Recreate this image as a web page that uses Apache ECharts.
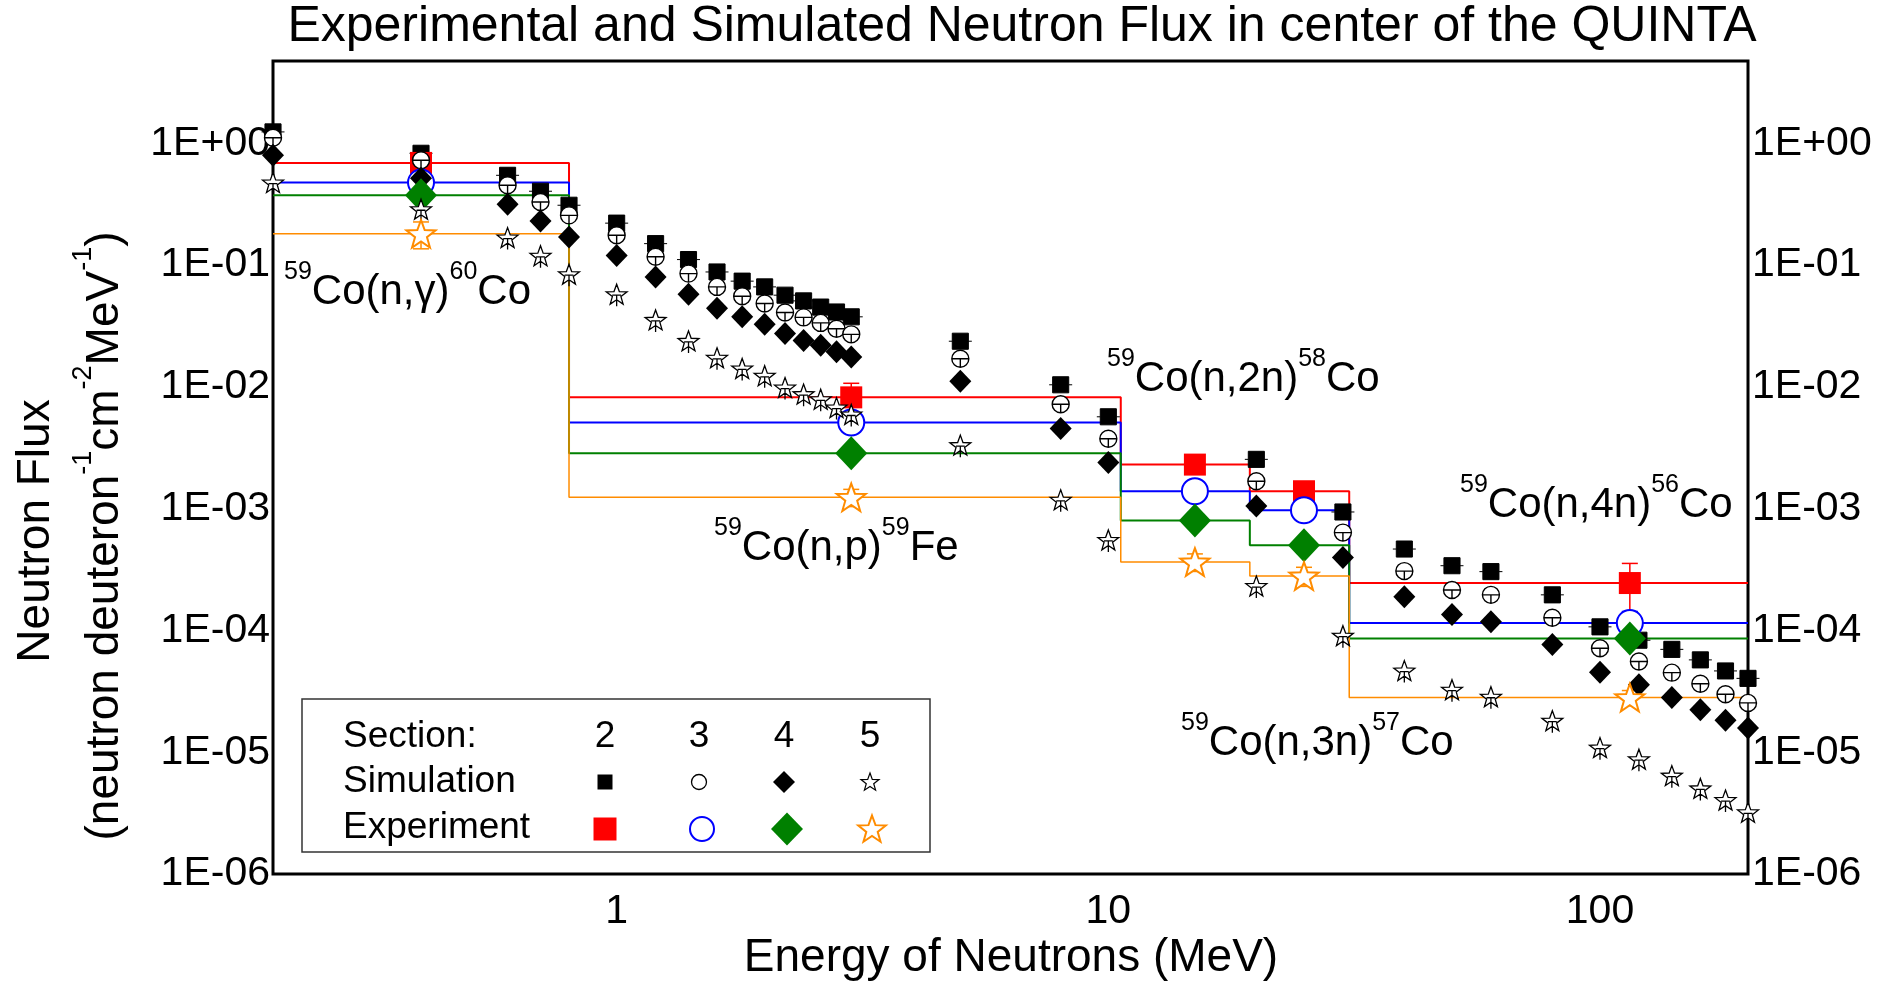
<!DOCTYPE html>
<html>
<head>
<meta charset="utf-8">
<script src="https://cdn.jsdelivr.net/npm/echarts@6/dist/echarts.min.js"></script>
<style>
  html, body { margin: 0; padding: 0; background: #fff; }
  #chart { width: 1877px; height: 987px; }
</style>
</head>
<body>
<div id="chart"></div>
<script>
// Neutron energies (MeV) of the simulated spectrum points
const simEnergy = [0.2, 0.4, 0.6, 0.7, 0.8, 1.0, 1.2, 1.4, 1.6, 1.8, 2.0, 2.2, 2.4, 2.6, 2.8, 3.0,
  5, 8, 10, 20, 30, 40, 50, 60, 80, 100, 120, 140, 160, 180, 200];
// Simulated flux, sections 2..5
const simSec2 = [1.24, 0.828, 0.546, 0.404, 0.310, 0.221, 0.150, 0.111, 0.0878, 0.0738, 0.0662, 0.0566, 0.0508, 0.0452, 0.0412, 0.0376,
  0.0237, 0.0104, 0.00568, 0.00254, 0.000939, 0.000466, 0.000340, 0.000304, 0.000196, 0.000107, 8.31e-5, 6.99e-5, 5.73e-5, 4.65e-5, 4.04e-5];
const simSec3 = [1.11, 0.725, 0.452, 0.330, 0.256, 0.176, 0.117, 0.0851, 0.0662, 0.0555, 0.0483, 0.0408, 0.0372, 0.0335, 0.0300, 0.0270,
  0.0170, 0.00720, 0.00375, 0.00168, 0.000636, 0.000307, 0.000215, 0.000196, 0.000127, 7.14e-5, 5.55e-5, 4.5e-5, 3.65e-5, 2.99e-5, 2.54e-5];
const simSec4 = [0.797, 0.516, 0.316, 0.230, 0.170, 0.120, 0.0798, 0.0577, 0.0442, 0.0376, 0.0327, 0.0274, 0.0240, 0.0220, 0.0194, 0.0176,
  0.0111, 0.00455, 0.00239, 0.00105, 0.000398, 0.000189, 0.000135, 0.000118, 7.66e-5, 4.54e-5, 3.58e-5, 2.81e-5, 2.23e-5, 1.83e-5, 1.58e-5];
const simSec5 = [0.467, 0.282, 0.165, 0.117, 0.0826, 0.0566, 0.0348, 0.0234, 0.0170, 0.0139, 0.0121, 0.00968, 0.00855, 0.00776, 0.00663, 0.00582,
  0.00326, 0.00116, 0.000543, 0.000227, 8.88e-5, 4.59e-5, 3.2e-5, 2.8e-5, 1.78e-5, 1.07e-5, 8.6e-6, 6.3e-6, 4.95e-6, 3.97e-6, 3.15e-6];

// Energy bins of the threshold reactions: (n,g), (n,p), (n,2n), (n,3n), (n,4n)
const binEdges = [0.2, 0.8, 10.6, 19.4, 30.9, 200];
// Representative energies of the experimental points
const expEnergy = [0.4, 3.0, 15, 25, 115];
// Experimental flux per bin, sections 2..5
const expSec2 = [0.69, 0.0082, 0.0023, 0.00139, 0.000245];
const expSec3 = [0.476, 0.0051, 0.00139, 0.00097, 0.000115];
const expSec4 = [0.374, 0.00285, 0.00080, 0.00050, 8.6e-5];
const expSec5 = [0.181, 0.00124, 0.000365, 0.00028, 2.81e-5];
// Experimental uncertainties
const errSec2 = [0.06, 0.0025, 0.0002, 0.00012, 0.00011];
const errSec3 = [0.08, 0.0006, 0.00018, 0.00013, 0.000028];
const errSec4 = [0.03, 0.0002, 0.00006, 0.00004, 0.000006];
const errSec5 = [0.045, 0.0002, 0.00006, 0.00005, 0.000004];

const sectionNames = ['2', '3', '4', '5'];
const xTickLabels = ['1', '10', '100'];

const FONT = '"Liberation Sans", Arial, Helvetica, sans-serif';
const RED = '#ff0000', BLUE = '#0000ff', GREEN = '#008000', ORANGE = '#ff8c00';

function starPoints(cx, cy, R, r) {
  const pts = [];
  for (let k = 0; k < 10; k++) {
    const rad = k % 2 ? r : R;
    const a = -Math.PI / 2 + k * Math.PI / 5;
    pts.push([cx + rad * Math.cos(a), cy + rad * Math.sin(a)]);
  }
  return pts;
}
function starSymbol(withBar) {
  const pts = starPoints(0, 0, 10, 4.1);
  let d = pts.map((p, k) => (k ? 'L' : 'M') + p[0].toFixed(2) + ',' + p[1].toFixed(2)).join(' ') + ' Z';
  if (withBar) d += ' M-4,0 L4,0 M0,0 L0,10';
  return 'path://' + d;
}
const simSquareSymbol = 'path://M-7,-7 L7,-7 L7,7 L-7,7 Z M-10,0 L-7,0 M7,0 L10,0';
const simCircleSymbol = 'path://M-10,0 A10,10 0 1,1 10,0 A10,10 0 1,1 -10,0 Z M-10,0 L10,0 M0,0 L0,10';
const simStarSymbol = starSymbol(true);
const expStarSymbol = starSymbol(false);

function pairs(xs, ys) { return xs.map((x, i) => [x, ys[i]]); }
function stepData(vals) { return binEdges.map((e, i) => [e, vals[Math.min(i, vals.length - 1)]]); }
function errData(vals, errs) { return expEnergy.map((e, i) => [e, vals[i], errs[i]]); }

function stepLine(vals, color, width) {
  return { type: 'line', step: 'end', data: stepData(vals), symbol: 'none', silent: true,
    lineStyle: { color: color, width: width }, z: 2 };
}
function errorBars(vals, errs, color) {
  return {
    type: 'custom', data: errData(vals, errs), silent: true, z: 4,
    encode: { x: 0, y: 1 },
    renderItem: function (params, api) {
      const x = api.value(0), y = api.value(1), d = api.value(2);
      const top = api.coord([x, y + d]);
      const bot = api.coord([x, y - d]);
      const h = 8;
      const st = { stroke: color, lineWidth: 1.5 };
      return { type: 'group', children: [
        { type: 'line', shape: { x1: top[0], y1: top[1], x2: bot[0], y2: bot[1] }, style: st },
        { type: 'line', shape: { x1: top[0] - h, y1: top[1], x2: top[0] + h, y2: top[1] }, style: st },
        { type: 'line', shape: { x1: bot[0] - h, y1: bot[1], x2: bot[0] + h, y2: bot[1] }, style: st }
      ] };
    }
  };
}

function logLabelY(v) {
  const e = Math.round(Math.log10(v));
  if (Math.abs(Math.log10(v) - e) > 1e-6) return '';
  const a = Math.abs(e);
  return '1E' + (e < 0 ? '-' : '+') + (a < 10 ? '0' : '') + a;
}
function logLabelX(v) {
  const e = Math.round(Math.log10(v));
  if (Math.abs(Math.log10(v) - e) > 1e-6) return '';
  const s = String(Math.round(v));
  return xTickLabels.indexOf(s) >= 0 ? s : '';
}

const yAxisBase = {
  type: 'log', logBase: 10, min: 1e-6, max: 4.74,
  axisLine: { show: false }, axisTick: { show: false }, splitLine: { show: false },
  axisLabel: { formatter: logLabelY, fontSize: 41, fontFamily: FONT, color: '#000', margin: 3,
    showMinLabel: true, showMaxLabel: false }
};

// reaction labels with superscript mass numbers
const richLabel = {
  m: { fontSize: 42, fontFamily: FONT, lineHeight: 56, fill: '#000', color: '#000' },
  s: { fontSize: 25, fontFamily: FONT, height: 16, verticalAlign: 'top', fill: '#000', color: '#000' }
};
function reaction(a, mid, b, prod, left, baseline) {
  return { type: 'text', x: left, y: baseline + 13, z: 10, silent: true,
    style: { text: '{s|' + a + '}{m|Co' + mid + '}{s|' + b + '}{m|' + prod + '}', rich: richLabel,
      align: 'left', verticalAlign: 'bottom' } };
}

function legendGraphics() {
  const g = [];
  const txt = (t, x, y, align) => ({ type: 'text', x: x, y: y, z: 21, silent: true,
    style: { text: t, font: '37px ' + FONT, fill: '#000', align: align, verticalAlign: 'middle' } });
  g.push({ type: 'rect', z: 20, silent: true, shape: { x: 302, y: 699, width: 628, height: 153 },
    style: { fill: '#fff', stroke: '#333', lineWidth: 1.5 } });
  g.push(txt('Section:', 343, 737, 'left'));
  g.push(txt('Simulation', 343, 782, 'left'));
  g.push(txt('Experiment', 343, 828, 'left'));
  const cols = [605, 699, 784, 870];
  sectionNames.forEach((n, i) => g.push(txt(n, cols[i], 737, 'center')));
  const ys = 782, ye = 829;
  g.push({ type: 'rect', z: 21, silent: true, shape: { x: cols[0] - 7.5, y: ys - 7.5, width: 15, height: 15 }, style: { fill: '#000' } });
  g.push({ type: 'circle', z: 21, silent: true, shape: { cx: cols[1], cy: ys, r: 7.5 }, style: { fill: '#fff', stroke: '#000', lineWidth: 1.3 } });
  g.push({ type: 'polygon', z: 21, silent: true, shape: { points: [[cols[2], ys - 11], [cols[2] + 11, ys], [cols[2], ys + 11], [cols[2] - 11, ys]] }, style: { fill: '#000' } });
  g.push({ type: 'polygon', z: 21, silent: true, shape: { points: starPoints(cols[3], ys + 0.5, 9.5, 3.9) }, style: { fill: '#fff', stroke: '#000', lineWidth: 1.2 } });
  g.push({ type: 'rect', z: 21, silent: true, shape: { x: cols[0] - 11.5, y: ye - 11.5, width: 23, height: 23 }, style: { fill: RED } });
  g.push({ type: 'circle', z: 21, silent: true, shape: { cx: cols[1] + 3, cy: ye, r: 12 }, style: { fill: '#fff', stroke: BLUE, lineWidth: 2 } });
  g.push({ type: 'polygon', z: 21, silent: true, shape: { points: [[cols[2] + 3, ye - 16.5], [cols[2] + 19, ye], [cols[2] + 3, ye + 16.5], [cols[2] - 13, ye]] }, style: { fill: GREEN } });
  g.push({ type: 'polygon', z: 21, silent: true, shape: { points: starPoints(cols[3] + 2, ye + 1, 14.5, 6) }, style: { fill: '#fff', stroke: ORANGE, lineWidth: 2 } });
  return g;
}

const chart = echarts.init(document.getElementById('chart'), null, { renderer: 'canvas' });
const option = {
  animation: false,
  backgroundColor: '#fff',
  grid: { left: 273, right: 129, top: 61, bottom: 113, show: true, borderColor: '#000', borderWidth: 3, backgroundColor: 'transparent' },
  xAxis: {
    type: 'log', logBase: 10, min: 0.2, max: 200,
    axisLine: { show: false }, axisTick: { show: false }, splitLine: { show: false },
    axisLabel: { formatter: logLabelX, fontSize: 41, fontFamily: FONT, color: '#000', margin: 17,
      showMinLabel: false, showMaxLabel: false }
  },
  yAxis: [
    Object.assign({}, yAxisBase, { position: 'left' }),
    Object.assign({}, yAxisBase, { position: 'right', axisLabel: Object.assign({}, yAxisBase.axisLabel, { margin: 4 }) })
  ],
  series: [
    stepLine(expSec2, RED, 2),
    stepLine(expSec3, BLUE, 2),
    stepLine(expSec4, GREEN, 2),
    stepLine(expSec5, ORANGE, 1.5),

    { type: 'scatter', data: pairs(simEnergy, simSec2), symbol: simSquareSymbol, symbolKeepAspect: true, symbolSize: 23, z: 4,
      itemStyle: { color: '#000', borderColor: '#000', borderWidth: 1, opacity: 1 } },
    { type: 'scatter', data: pairs(expEnergy, expSec2), symbol: 'rect', symbolSize: 22, z: 4,
      itemStyle: { color: RED, opacity: 1 } },
    errorBars(expSec2, errSec2, RED),

    { type: 'scatter', data: pairs(simEnergy, simSec3), symbol: simCircleSymbol, symbolKeepAspect: true, symbolSize: 17, z: 4,
      itemStyle: { color: '#fff', borderColor: '#000', borderWidth: 1.4, opacity: 1 } },
    { type: 'scatter', data: pairs(expEnergy, expSec3), symbol: 'circle', symbolSize: 26, z: 4,
      itemStyle: { color: '#fff', borderColor: BLUE, borderWidth: 2, opacity: 1 } },
    errorBars(expSec3, errSec3, BLUE),

    { type: 'scatter', data: pairs(simEnergy, simSec4), symbol: 'diamond', symbolSize: [22, 23], z: 4,
      itemStyle: { color: '#000', opacity: 1 } },
    { type: 'scatter', data: pairs(expEnergy, expSec4), symbol: 'diamond', symbolSize: [32, 34], z: 4,
      itemStyle: { color: GREEN, opacity: 1 } },
    errorBars(expSec4, errSec4, GREEN),

    { type: 'scatter', data: pairs(simEnergy, simSec5), symbol: simStarSymbol, symbolKeepAspect: true, symbolSize: 22, z: 4,
      itemStyle: { color: '#fff', borderColor: '#000', borderWidth: 1.3, opacity: 1 } },
    { type: 'scatter', data: pairs(expEnergy, expSec5), symbol: expStarSymbol, symbolKeepAspect: true, symbolSize: 29, z: 4,
      itemStyle: { color: '#fff', borderColor: ORANGE, borderWidth: 2, opacity: 1 } },
    errorBars(expSec5, errSec5, ORANGE)
  ],
  graphic: [
    { type: 'text', x: 1022, y: 27, silent: true,
      style: { text: 'Experimental and Simulated Neutron Flux in center of the QUINTA', font: '50px ' + FONT, fill: '#000', align: 'center', verticalAlign: 'middle' } },
    { type: 'text', x: 1011, y: 958, silent: true,
      style: { text: 'Energy of Neutrons (MeV)', font: '46px ' + FONT, fill: '#000', align: 'center', verticalAlign: 'middle' } },
    { type: 'text', x: 36, y: 531, rotation: Math.PI / 2, silent: true,
      style: { text: 'Neutron Flux', font: '46px ' + FONT, fill: '#000', align: 'center', verticalAlign: 'middle' } },
    { type: 'text', x: 105, y: 536, rotation: Math.PI / 2, silent: true,
      style: { text: '{m|(neutron deuteron}{s|-1}{m|cm}{s|-2}{m|MeV}{s|-1}{m|)}',
        rich: {
          m: { fontSize: 46, fontFamily: FONT, lineHeight: 60, fill: '#000', color: '#000' },
          s: { fontSize: 27, fontFamily: FONT, height: 18, verticalAlign: 'top', fill: '#000', color: '#000' }
        },
        align: 'center', verticalAlign: 'middle' } },
    reaction('59', '(n,\u03b3)', '60', 'Co', 284, 307),
    reaction('59', '(n,p)', '59', 'Fe', 714, 563),
    reaction('59', '(n,2n)', '58', 'Co', 1107, 394),
    reaction('59', '(n,4n)', '56', 'Co', 1460, 520),
    reaction('59', '(n,3n)', '57', 'Co', 1181, 758)
  ].concat(legendGraphics())
};
chart.setOption(option);
</script>
</body>
</html>
